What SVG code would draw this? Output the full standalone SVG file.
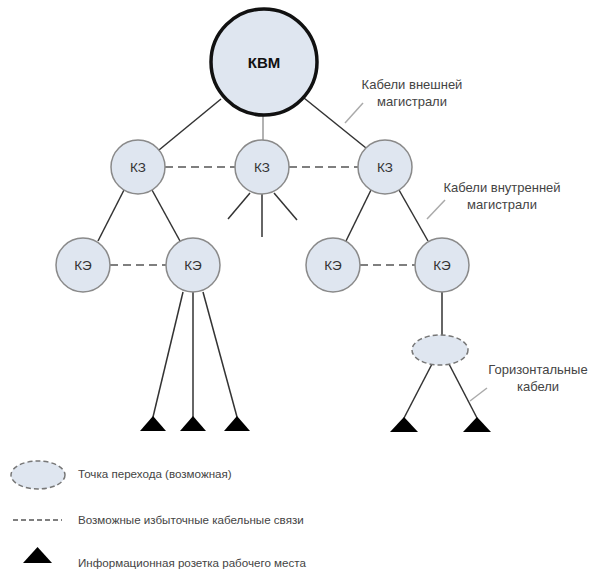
<svg xmlns="http://www.w3.org/2000/svg" width="591" height="571" viewBox="0 0 591 571">
<defs>
<style>
.bg{fill:#ffffff}
.node{fill:#dfe6f0;stroke:#8a8a8a;stroke-width:1.5}
.main{fill:#dfe6f0;stroke:#111;stroke-width:3.5}
.tp{fill:#dfe6f0;stroke:#777;stroke-width:1.5;stroke-dasharray:5 3}
.lbl{font-family:"Liberation Sans",Arial,sans-serif;font-size:13.5px;fill:#333;text-anchor:middle}
.big{font-family:"Liberation Sans",Arial,sans-serif;font-size:15px;font-weight:bold;fill:#111;text-anchor:middle}
.note{font-family:"Liberation Sans",Arial,sans-serif;font-size:13px;fill:#444;text-anchor:middle}
.leg{font-family:"Liberation Sans",Arial,sans-serif;font-size:11.6px;fill:#444}
.line{stroke:#333;stroke-width:1.5;fill:none}
.grey{stroke:#999;stroke-width:1.5;fill:none}
.dash{stroke:#555;stroke-width:1.5;fill:none;stroke-dasharray:8 5}
.lead{stroke:#aaa;stroke-width:1.5;fill:none}
.sock{fill:#000}
</style>
</defs>
<rect class="bg" width="591" height="571"/>
<g id="connectors">
<line class="line" x1="221" y1="99" x2="159" y2="150"/>
<line class="grey" x1="263" y1="115" x2="263" y2="140"/>
<line class="line" x1="304" y1="98" x2="366" y2="148"/>
<line class="dash" x1="165" y1="167" x2="235" y2="167"/>
<line class="dash" x1="289" y1="167" x2="358" y2="167"/>
<line class="line" x1="250" y1="193" x2="228" y2="219"/>
<line class="line" x1="262" y1="194" x2="262" y2="237"/>
<line class="line" x1="274" y1="193" x2="297" y2="220"/>
<line class="line" x1="124" y1="190" x2="98" y2="241"/>
<line class="line" x1="152" y1="190" x2="180" y2="241"/>
<line class="line" x1="371" y1="190" x2="346" y2="241"/>
<line class="line" x1="399" y1="190" x2="428" y2="241"/>
<line class="dash" x1="110" y1="265" x2="166" y2="265"/>
<line class="dash" x1="360" y1="265" x2="415" y2="265"/>
<line class="line" x1="183" y1="292" x2="153" y2="417"/>
<line class="line" x1="193" y1="292" x2="193" y2="417"/>
<line class="line" x1="203" y1="292" x2="237" y2="417"/>
<line class="line" x1="442" y1="292" x2="442" y2="335"/>
<line class="line" x1="432" y1="364" x2="404" y2="418"/>
<line class="line" x1="449" y1="364" x2="477" y2="418"/>
<line class="lead" x1="345" y1="123" x2="363" y2="103"/>
<line class="lead" x1="427" y1="219" x2="445" y2="200"/>
<line class="lead" x1="470" y1="401" x2="487" y2="388"/>
</g>
<g id="kvm">
<circle class="main" cx="264" cy="62" r="53"/>
<text class="big" x="264" y="68">КВМ</text>
</g>
<g id="kz1"><circle class="node" cx="138" cy="167" r="27"/><text class="lbl" x="138" y="172">КЗ</text></g>
<g id="kz2"><circle class="node" cx="262" cy="167" r="27"/><text class="lbl" x="262" y="172">КЗ</text></g>
<g id="kz3"><circle class="node" cx="385" cy="167" r="27"/><text class="lbl" x="385" y="172">КЗ</text></g>
<g id="ke1"><circle class="node" cx="83" cy="265" r="27"/><text class="lbl" x="83" y="270">КЭ</text></g>
<g id="ke2"><circle class="node" cx="193" cy="265" r="27"/><text class="lbl" x="193" y="270">КЭ</text></g>
<g id="ke3"><circle class="node" cx="333" cy="265" r="27"/><text class="lbl" x="333" y="270">КЭ</text></g>
<g id="ke4"><circle class="node" cx="442" cy="265" r="27"/><text class="lbl" x="442" y="270">КЭ</text></g>
<g id="tp"><ellipse class="tp" cx="440" cy="350" rx="28" ry="15"/></g>
<g id="sockets">
<polygon class="sock" points="140,431 166,431 153,416"/>
<polygon class="sock" points="180,431 206,431 193,416"/>
<polygon class="sock" points="224,431 250,431 237,416"/>
<polygon class="sock" points="390,432 418,432 404,417"/>
<polygon class="sock" points="463,432 491,432 477,417"/>
</g>
<g id="labels">
<text class="note" x="412" y="89">Кабели внешней</text>
<text class="note" x="412" y="106">магистрали</text>
<text class="note" x="502" y="192">Кабели внутренней</text>
<text class="note" x="502" y="209">магистрали</text>
<text class="note" x="538" y="374">Горизонтальные</text>
<text class="note" x="538" y="391">кабели</text>
</g>
<g id="legend">
<ellipse class="tp" cx="38" cy="475" rx="27" ry="14"/>
<text class="leg" x="78" y="478">Точка перехода (возможная)</text>
<line class="dash" x1="13" y1="520" x2="62" y2="520" style="stroke-dasharray:5 3"/>
<text class="leg" x="78" y="524">Возможные избыточные кабельные связи</text>
<polygon class="sock" points="23,563 52,563 37.5,547"/>
<text class="leg" x="78" y="567">Информационная розетка рабочего места</text>
</g>
</svg>
